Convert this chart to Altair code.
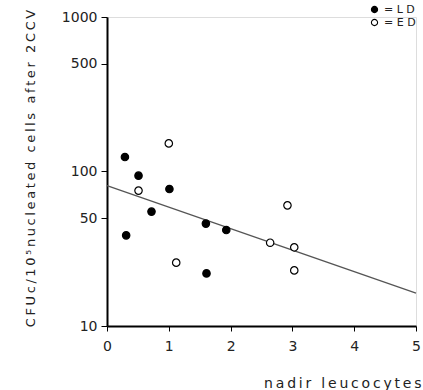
import altair as alt
import pandas as pd

# Filled circles (LD)
ld_x = [0.29, 0.51, 0.31, 0.72, 1.01, 1.60, 1.93, 1.61]
ld_y = [124, 94, 38.6, 55, 77, 46, 41.8, 21.9]
# Open circles (ED)
ed_x = [1.00, 0.51, 1.12, 2.92, 2.64, 3.03, 3.03]
ed_y = [152, 75.2, 25.7, 60.4, 34.6, 32.3, 22.9]
# Regression line endpoints
line_x = [0, 5]
line_y = [81, 16.3]

x_ticks = [0, 1, 2, 3, 4, 5]
y_ticks = [10, 50, 100, 500, 1000]

pts = pd.DataFrame({
    "x": ld_x + ed_x,
    "y": ld_y + ed_y,
    "g": ["LD"] * len(ld_x) + ["ED"] * len(ed_x),
})
ln = pd.DataFrame({"x": line_x, "y": line_y})

FONT = "DejaVu Sans"
TS = "\u2009"  # thin space used to imitate the letter-spaced lettering


def spaced(s):
    return TS.join(list(s))


xaxis = alt.Axis(
    values=x_ticks, format="d", title=spaced("nadir leucocytes"), grid=False,
    labelFlush=False,
    domainColor="black", domainWidth=2, tickColor="black", tickSize=5,
    labelFont=FONT, labelFontSize=14, labelColor="#222", labelPadding=8,
    titleFont=FONT, titleFontSize=14, titleFontWeight="normal", titleColor="#222",
    titleX=314, titleY=61, titleAlign="right", titleBaseline="alphabetic",
)
yaxis = alt.Axis(
    values=y_ticks, format="d", title=spaced("CFUc/10⁵nucleated cells after 2CCV"),
    grid=False, labelFlush=False,
    domainColor="black", domainWidth=2, tickColor="black", tickSize=6,
    labelFont=FONT, labelFontSize=14, labelColor="#222", labelPadding=4,
    titleFont=FONT, titleFontSize=13, titleFontWeight="normal", titleColor="#222",
    titleX=-77, titleY=151, titleAngle=270, titleAlign="center", titleBaseline="middle",
)

xs = alt.Scale(domain=[0, 5], nice=False, zero=False)
ys = alt.Scale(type="log", domain=[10, 1000], nice=False)

line = alt.Chart(ln).mark_line(color="#555", strokeWidth=1.3).encode(
    x=alt.X("x:Q", scale=xs, axis=xaxis),
    y=alt.Y("y:Q", scale=ys, axis=yaxis),
)

points = alt.Chart(pts).mark_point(
    shape="circle", filled=True, size=55, stroke="black", strokeWidth=1.2, opacity=1
).encode(
    x=alt.X("x:Q", scale=xs),
    y=alt.Y("y:Q", scale=ys),
    fill=alt.Fill(
        "g:N",
        scale=alt.Scale(domain=["LD", "ED"], range=["black", "white"]),
        legend=alt.Legend(
            orient="none", legendX=262, legendY=-13, title=None,
            labelExpr="datum.label == 'LD' ? '= L D' : '= E D'",
            labelFont=FONT, labelFontSize=11, labelColor="#222",
            symbolType="circle", symbolSize=38, symbolStrokeColor="black",
            symbolStrokeWidth=1.1, rowPadding=1, labelOffset=4,
        ),
    ),
)

chart = (line + points).properties(
    width=309, height=309,
    padding={"left": 107, "top": 17, "right": 7, "bottom": 64},
    autosize=alt.AutoSizeParams(type="none"),
).configure_view(stroke=None).configure(background="white")

chart.save("out.html", embed_options={"renderer": "svg", "actions": False})
